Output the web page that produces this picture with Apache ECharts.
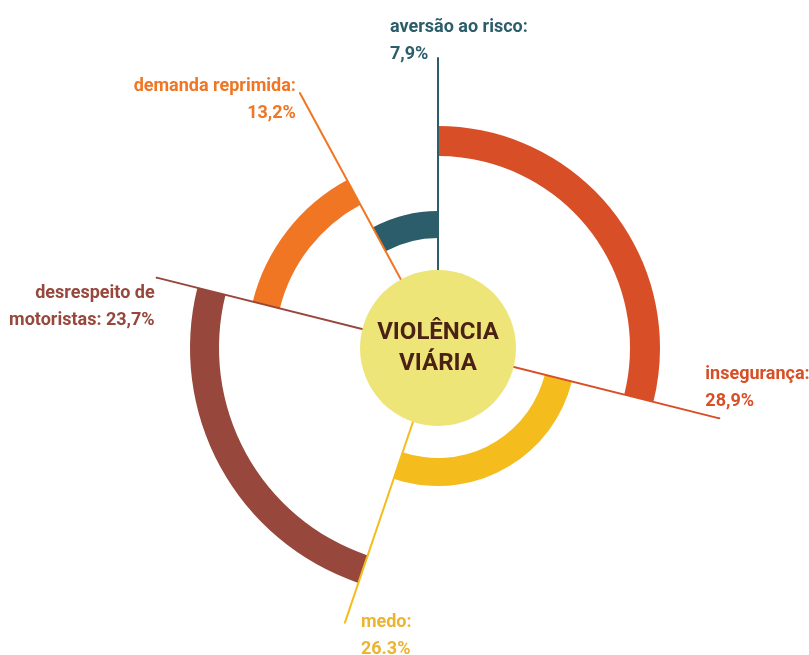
<!DOCTYPE html>
<html>
<head>
<meta charset="utf-8">
<script src="https://cdn.jsdelivr.net/npm/echarts@6/dist/echarts.min.js"></script>
<style>
html, body { margin: 0; padding: 0; background: #fff; }
#chart { width: 809px; height: 655px; }
</style>
</head>
<body>
<div id="chart"></div>
<script>
// fatias no sentido horário a partir do topo
var names = ['insegurança', 'medo', 'desrespeito de motoristas', 'demanda reprimida', 'aversão ao risco']
var values = [28.9, 26.3, 23.7, 13.2, 7.9]
var labels = ['insegurança:\n28,9%', 'medo:\n26.3%', 'desrespeito de\nmotoristas: 23,7%', 'demanda reprimida:\n13,2%', 'aversão ao risco:\n7,9%']
var centerText = 'VIOLÊNCIA\nVIÁRIA'

// estilo
var colors = ['#D84F27', '#F4BD1D', '#97473B', '#F07623', '#2C5D6A']
var labelColors = ['#D84F27', '#EBB432', '#97473B', '#F07623', '#2C5D6A']
var ringRadius = [[192, 222], [110, 138], [219, 248], [163, 191], [110, 137]]
var labelPos = [
    { offset: [-13, -29], align: 'left' },
    { offset: [17, 14], align: 'left' },
    { offset: [-1, 30], align: 'right' },
    { offset: [-3, 8], align: 'right' },
    { offset: [-47, -16], align: 'left' }
]
var font = 'Roboto, sans-serif'
var center = [438, 348]

var myChart = echarts.init(document.getElementById('chart'))

var series = []
// um anel por fatia, só a própria fatia visível
values.forEach(function (v, i) {
    series.push({
        type: 'pie',
        center: center,
        radius: ringRadius[i],
        startAngle: 90,
        clockwise: true,
        silent: true,
        z: 1,
        label: { show: false },
        labelLine: { show: false },
        data: values.map(function (val, j) {
            return {
                name: names[j],
                value: val,
                itemStyle: { color: j === i ? colors[i] : 'rgba(0,0,0,0)', borderWidth: 0 }
            }
        })
    })
})

// linhas radiais no fim de cada fatia
var cum = 0
values.forEach(function (v, i) {
    cum += v
    series.push({
        type: 'line',
        coordinateSystem: 'polar',
        silent: true,
        clip: false,
        z: 2,
        symbol: 'circle',
        symbolSize: 2,
        itemStyle: { color: colors[i] },
        lineStyle: { color: colors[i], width: 2 },
        data: [
            { value: [0, cum], label: { show: false } },
            {
                value: [1, cum],
                label: {
                    show: true,
                    formatter: labels[i],
                    position: labelPos[i].offset,
                    align: labelPos[i].align,
                    verticalAlign: 'middle',
                    color: labelColors[i],
                    fontFamily: font,
                    fontWeight: 'bold',
                    fontSize: 18,
                    lineHeight: 27
                }
            }
        ]
    })
})

// círculo central
series.push({
    type: 'pie',
    center: center,
    radius: [0, 78],
    silent: true,
    z: 3,
    labelLine: { show: false },
    label: {
        show: true,
        position: 'center',
        formatter: centerText,
        color: '#4A2114',
        fontFamily: font,
        fontWeight: 'bold',
        fontSize: 24,
        lineHeight: 31
    },
    data: [{ name: 'centro', value: 1, itemStyle: { color: '#EDE577' } }]
})

var options = {
    backgroundColor: '#fff',
    animation: false,
    polar: { center: center, radius: 290 },
    angleAxis: {
        type: 'value', min: 0, max: 100, startAngle: 90, clockwise: true,
        axisLine: { show: false }, axisTick: { show: false }, axisLabel: { show: false }, splitLine: { show: false }
    },
    radiusAxis: {
        type: 'value', min: 0, max: 1,
        axisLine: { show: false }, axisTick: { show: false }, axisLabel: { show: false }, splitLine: { show: false }
    },
    series: series
}
myChart.setOption(options)
</script>
</body>
</html>
